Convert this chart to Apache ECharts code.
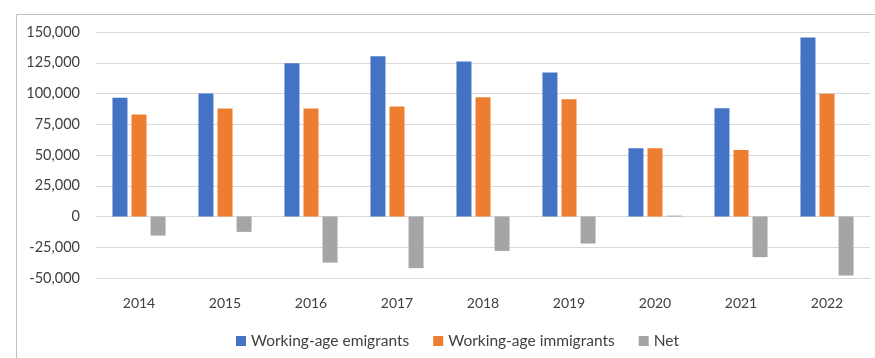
<!DOCTYPE html>
<html>
<head>
<meta charset="utf-8">
<script src="https://cdn.jsdelivr.net/npm/echarts@6/dist/echarts.min.js"></script>
<style>html,body{margin:0;padding:0;background:#fff}#c{width:875px;height:358px}</style>
</head>
<body>
<div id="c"></div>
<script>
const categories = ['2014','2015','2016','2017','2018','2019','2020','2021','2022'];
const emigrants = [96500, 100000, 124500, 130300, 126000, 117000, 55500, 88000, 145500];
const immigrants = [83000, 87800, 87800, 89400, 97000, 95400, 55500, 54000, 99700];
const net = [-15500, -12500, -37500, -42000, -28000, -22000, 700, -33000, -48000];
const seriesNames = ['Working-age emigrants', 'Working-age immigrants', 'Net'];
const yTicks = {min: -50000, max: 150000, interval: 25000};

const font = 'Lato, "Open Sans", sans-serif';
const chart = echarts.init(document.getElementById('c'), null, {renderer: 'canvas'});
chart.setOption({
  animation: false,
  color: ['#4472C4', '#ED7D31', '#A5A5A5'],
  graphic: [{
    type: 'rect', left: 14, top: 12, shape: {width: 900, height: 400},
    style: {fill: 'none', stroke: '#bfbfbf', lineWidth: 1}, silent: true
  }],
  grid: {left: 96, right: 5, top: 32, bottom: 80, containLabel: false},
  legend: {
    left: 231, top: 328, itemWidth: 10, itemHeight: 10, itemGap: 24,
    icon: 'rect',
    textStyle: {fontFamily: font, fontSize: 15.5, color: '#404040'},
    data: seriesNames
  },
  xAxis: {
    type: 'category', data: categories,
    axisTick: {show: false},
    axisLine: {lineStyle: {color: '#d9d9d9'}},
    axisLabel: {interval: 0, margin: 18, fontFamily: font, fontSize: 14, color: '#404040'}
  },
  yAxis: {
    type: 'value', min: yTicks.min, max: yTicks.max, interval: yTicks.interval,
    axisLine: {show: false}, axisTick: {show: false},
    splitLine: {lineStyle: {color: '#d9d9d9', width: 1}},
    axisLabel: {margin: 16, fontFamily: font, fontSize: 14.5, color: '#404040',
      formatter: v => v.toLocaleString('en-US')}
  },
  series: [
    {name: seriesNames[0], type: 'bar', data: emigrants, barWidth: 15, barGap: '27%', barCategoryGap: '38%'},
    {name: seriesNames[1], type: 'bar', data: immigrants, barWidth: 15, barGap: '27%'},
    {name: seriesNames[2], type: 'bar', data: net, barWidth: 15, barGap: '27%'}
  ]
});
</script>
</body>
</html>
